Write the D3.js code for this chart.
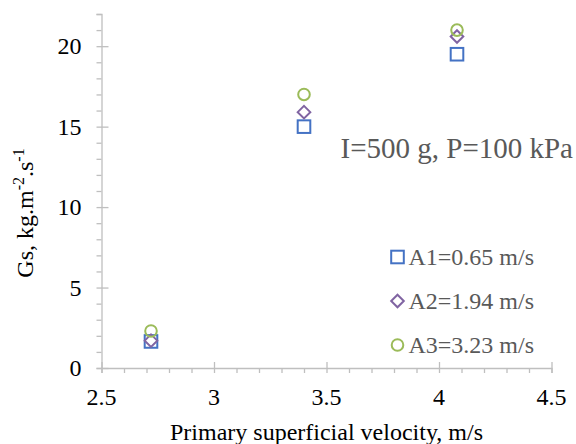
<!DOCTYPE html>
<html>
<head>
<meta charset="utf-8">
<script src="https://cdn.jsdelivr.net/npm/d3@7"></script>
<style>
  body { margin: 0; background: #fff; }
  text { font-family: "Times New Roman", "Liberation Serif", Tinos, Times, serif; }
  .axis path, .axis line { stroke: #bfbfbf; stroke-width: 1.3; fill: none; }
</style>
</head>
<body>
<svg width="576" height="444"></svg>
<script>
// velocities and mass flux values
var velocity = [2.72, 3.40, 4.08];
var seriesNames = ["A1=0.65 m/s", "A2=1.94 m/s", "A3=3.23 m/s"];
var a1 = [1.65, 15.0, 19.5];
var a2 = [1.7, 15.9, 20.6];
var a3 = [2.3, 17.0, 21.0];
var xTicks = [2.5, 3, 3.5, 4, 4.5];
var yTicks = [0, 5, 10, 15, 20];

var colors = ["#4472c4", "#8064a2", "#9bbb59"];
var shapes = ["square", "diamond", "circle"];
var series = [a1, a2, a3];

var svg = d3.select("svg");
var x = d3.scaleLinear().domain([2.5, 4.5]).range([101.5, 551.5]);
var y = d3.scaleLinear().domain([0, 22]).range([368, 14]);

// minor ticks
var gx = svg.append("g").attr("class", "axis").attr("transform", "translate(0," + y(0) + ")");
gx.call(d3.axisBottom(x).tickValues(d3.range(25, 46).map(function(d){ return d / 10; })).tickSize(5).tickFormat(""));
gx.selectAll(".tick").filter(function(d){ return xTicks.indexOf(d) >= 0; }).select("line")
  .attr("y1", -6).attr("y2", 5);
gx.append("g").selectAll("text").data(xTicks).enter().append("text")
  .attr("x", function(d){ return x(d); }).attr("y", 37)
  .attr("text-anchor", "middle").attr("font-size", 24).attr("fill", "#000")
  .text(function(d){ return d; });

var gy = svg.append("g").attr("class", "axis").attr("transform", "translate(" + x(2.5) + ",0)");
gy.call(d3.axisLeft(y).tickValues(d3.range(0, 23)).tickSize(5).tickFormat(""));
gy.selectAll(".tick").filter(function(d){ return yTicks.indexOf(d) >= 0; }).select("line")
  .attr("x1", -5).attr("x2", 7);
gy.append("g").selectAll("text").data(yTicks).enter().append("text")
  .attr("x", -20).attr("y", function(d){ return y(d) + 8; })
  .attr("text-anchor", "end").attr("font-size", 24).attr("fill", "#000")
  .text(function(d){ return d; });

// axis titles
svg.append("text").attr("x", x(3.5)).attr("y", 440).attr("text-anchor", "middle")
  .attr("font-size", 24).attr("fill", "#000").text("Primary superficial velocity, m/s");

var yt = svg.append("text").attr("transform", "translate(33,213) rotate(-90)")
  .attr("text-anchor", "middle").attr("font-size", 24).attr("fill", "#000");
yt.append("tspan").text("Gs, kg.m");
yt.append("tspan").attr("font-size", 16).attr("dy", -9).text("-2");
yt.append("tspan").attr("dy", 9).text(".s");
yt.append("tspan").attr("font-size", 16).attr("dy", -9).text("-1");

function marker(sel, shape, color) {
  if (shape === "square") {
    sel.append("rect").attr("x", -6.3).attr("y", -6.3).attr("width", 12.6).attr("height", 12.6);
  } else if (shape === "diamond") {
    sel.append("path").attr("d", "M0,-6.3L6.3,0L0,6.3L-6.3,0Z");
  } else {
    sel.append("circle").attr("r", 5.8);
  }
  sel.selectAll("*").attr("fill", "none").attr("stroke", color).attr("stroke-width", 2);
}

series.forEach(function(vals, si) {
  svg.append("g").selectAll("g").data(vals).enter().append("g")
    .attr("transform", function(d, i){ return "translate(" + x(velocity[i]) + "," + y(d) + ")"; })
    .each(function(){ marker(d3.select(this), shapes[si], colors[si]); });
});

// legend
var legendY = [257, 301, 345];
seriesNames.forEach(function(name, i) {
  var lg = svg.append("g").attr("transform", "translate(397.5," + legendY[i] + ")");
  marker(lg, shapes[i], colors[i]);
  lg.append("text").attr("x", 11).attr("y", 8).attr("font-size", 24).attr("fill", "#595959").text(name);
});

svg.append("text").attr("x", 573).attr("y", 158).attr("text-anchor", "end")
  .attr("font-size", 29).attr("fill", "#595959").text("I=500 g, P=100 kPa");
</script>
</body>
</html>
